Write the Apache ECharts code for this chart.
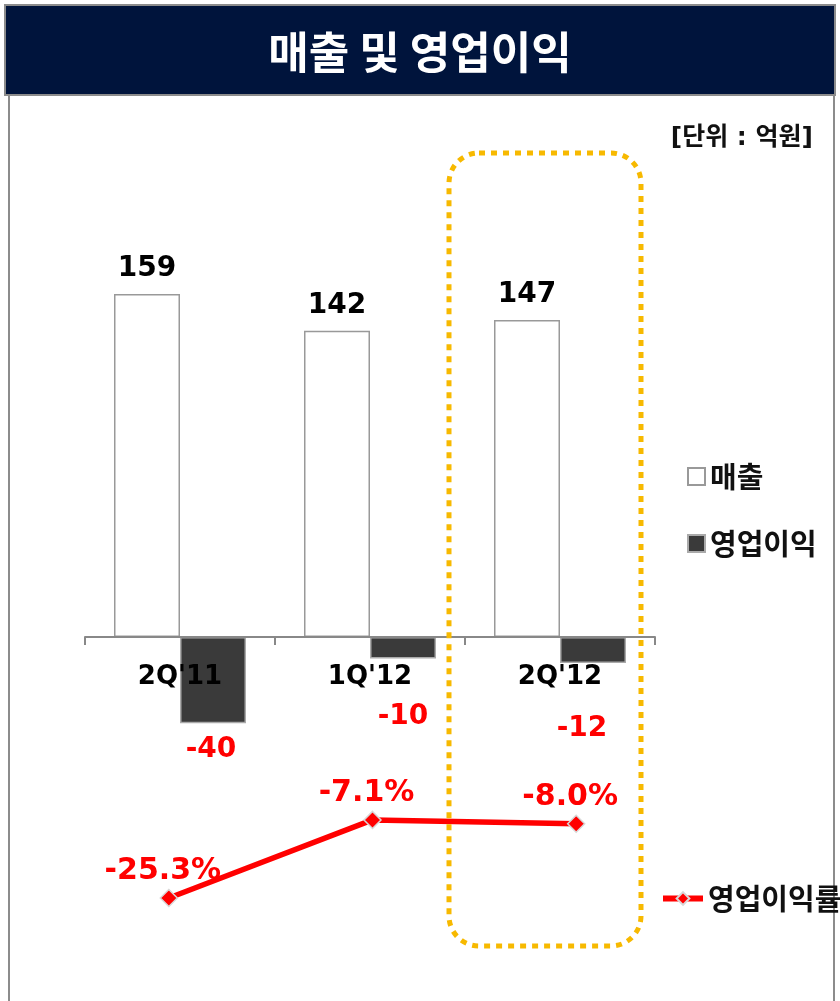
<!DOCTYPE html>
<html><head><meta charset="utf-8">
<script src="https://cdn.jsdelivr.net/npm/echarts@6/dist/echarts.min.js"></script>
<style>html,body{margin:0;padding:0;background:#fff}#c{width:840px;height:1001px}</style>
</head><body><div id="c"></div>
<script>
const categories = ["2Q'11", "1Q'12", "2Q'12"];
const sales = [159, 142, 147];
const opProfit = [-40, -10, -12];
const opMargin = [-25.3, -7.1, -8.0];
const marginLabels = ['-25.3%', '-7.1%', '-8.0%'];
const seriesNames = ['매출', '영업이익', '영업이익률'];
const titleText = '매출 및 영업이익';
const unitText = '[단위 : 억원]';

const NUM = 'DejaVu Sans, Noto Sans CJK KR, sans-serif';
const KR = 'Noto Sans CJK KR, sans-serif';

// per-item label placement for negative bars
const negLabelPlace = [{distance: 12, offset: [-2, 0]}, {distance: 44, offset: [0, 0]}, {distance: 52, offset: [-11, 0]}];

const chart = echarts.init(document.getElementById('c'));
chart.setOption({
  backgroundColor: '#fff',
  animation: false,
  title: {
    text: titleText, left: 'center', top: 25,
    textStyle: {color: '#fff', fontSize: 44, fontWeight: 'bold', fontFamily: KR}
  },
  graphic: [
    {type: 'line', shape: {x1: 9, y1: 95, x2: 9, y2: 1001}, style: {stroke: '#8c8c8c', lineWidth: 2}, z: -1},
    {type: 'line', shape: {x1: 834, y1: 95, x2: 834, y2: 1001}, style: {stroke: '#8c8c8c', lineWidth: 2}, z: -1},
    {type: 'rect', shape: {x: 5, y: 5, width: 830, height: 90}, style: {fill: '#00143c', stroke: '#8c8c8c', lineWidth: 2}, z: -1},
    {type: 'text', right: 27, top: 126, style: {text: unitText, fill: '#111', font: 'bold 25px ' + NUM}},
    {type: 'rect', shape: {x: 449, y: 153, width: 192, height: 793, r: 30}, style: {fill: 'none', stroke: '#f7b900', lineWidth: 5, lineDash: [6, 6]}, z: 20}
  ],
  legend: [
    {
      data: [seriesNames[0], seriesNames[1]], orient: 'vertical', left: 682, top: 457, itemGap: 38,
      itemWidth: 17, itemHeight: 17, icon: 'rect',
      textStyle: {fontSize: 29, fontWeight: 'bold', color: '#111', fontFamily: KR}
    },
    {
      data: [seriesNames[2]], left: 655, top: 879, itemWidth: 40, itemHeight: 16,
      lineStyle: {width: 6},
      textStyle: {fontSize: 29, fontWeight: 'bold', color: '#111', fontFamily: KR}
    }
  ],
  grid: [
    {left: 85, right: 185, top: 248.7, height: 388.3},
    {left: 67, right: 162, top: 789.5, height: 128.6}
  ],
  xAxis: [
    {
      type: 'category', data: categories, gridIndex: 0, z: 5,
      axisLine: {show: true, lineStyle: {color: '#888', width: 2}},
      axisTick: {show: true, length: 8, alignWithLabel: false, lineStyle: {color: '#888', width: 2}},
      axisLabel: {margin: 27, fontSize: 26, fontWeight: 'bold', color: '#000', fontFamily: NUM}
    },
    {type: 'category', data: categories, gridIndex: 1, show: false}
  ],
  yAxis: [
    {type: 'value', gridIndex: 0, min: 0, max: 180, show: false},
    {type: 'value', gridIndex: 1, min: -30, max: 0, show: false}
  ],
  series: [
    {
      name: seriesNames[0], type: 'bar', data: sales, barWidth: 66, barGap: '0%', clip: false,
      itemStyle: {color: '#fff', borderColor: '#999', borderWidth: 1.5},
      label: {show: true, position: 'top', distance: 11, fontSize: 28, fontWeight: 'bold', color: '#000', fontFamily: NUM}
    },
    {
      name: seriesNames[1], type: 'bar', barWidth: 66, clip: false,
      data: opProfit.map((v, i) => ({value: v, label: negLabelPlace[i]})),
      itemStyle: {color: '#3a3a3a', borderColor: '#aaa', borderWidth: 1.5},
      label: {show: true, position: 'bottom', fontSize: 28, fontWeight: 'bold', color: '#ff0000', fontFamily: NUM}
    },
    {
      name: seriesNames[2], type: 'line', xAxisIndex: 1, yAxisIndex: 1, data: opMargin,
      symbol: 'diamond', symbolSize: 17, z: 10,
      lineStyle: {color: '#ff0000', width: 5.5},
      itemStyle: {color: '#ff0000', borderColor: '#d8d8d8', borderWidth: 1.5},
      label: {
        show: true, position: 'top', distance: 2, offset: [-6, 0],
        formatter: p => marginLabels[p.dataIndex],
        fontSize: 30, fontWeight: 'bold', color: '#ff0000', fontFamily: NUM
      }
    }
  ]
});
</script></body></html>
